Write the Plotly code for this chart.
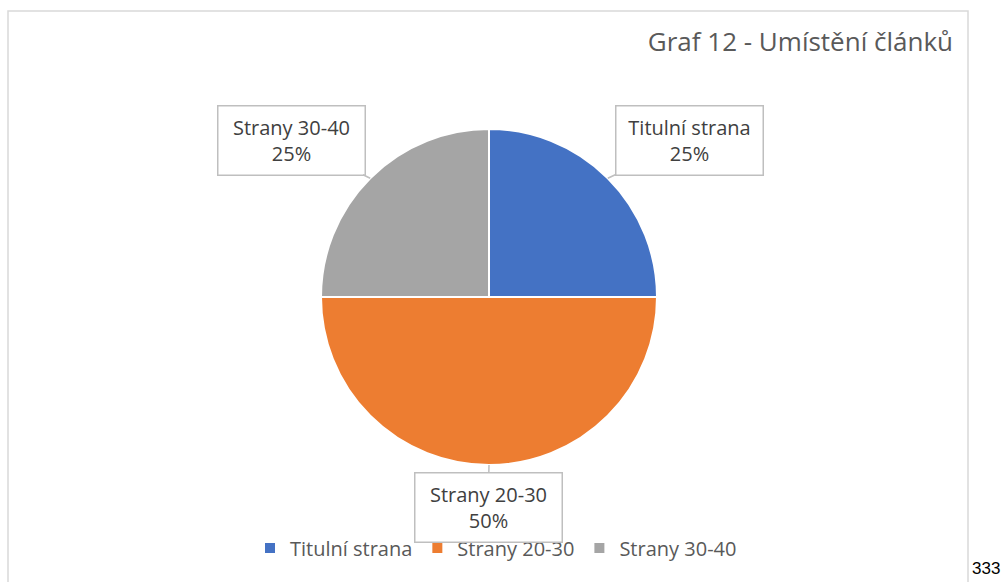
import numpy as np
import plotly.graph_objects as go

labels = ["Titulní strana", "Strany 20-30", "Strany 30-40"]
values = [25, 50, 25]
colors = ["#4472C4", "#ED7D31", "#A5A5A5"]

W, H = 1002, 582
FONT = "Open Sans"

# pie placement (pixels)
cx, cy, r = 489, 297, 168

fig = go.Figure(go.Pie(
    labels=labels, values=values, sort=False, direction="clockwise", rotation=0,
    marker=dict(colors=colors, line=dict(color="white", width=2)),
    textinfo="none", hoverinfo="label+percent",
    domain=dict(x=[(cx - r) / W, (cx + r) / W], y=[(H - cy - r) / H, (H - cy + r) / H]),
))

# callout boxes, leader to mid-angle of each slice
box_centres = [(689, 140), (488, 507), (291, 140)]
pct = np.array(values) / sum(values) * 100
start = 0.0
for lab, p, v, (bx, by) in zip(labels, pct, values, box_centres):
    mid = (start + v / 2) / sum(values) * 2 * np.pi
    start += v
    px_ = cx + r * np.sin(mid)
    py_ = cy - r * np.cos(mid)
    fig.add_annotation(
        x=px_ / W, y=1 - py_ / H, xref="paper", yref="paper",
        ax=bx - px_, ay=by - py_, axref="pixel", ayref="pixel",
        text=f"{lab}<br>{p:.0f}%", showarrow=True, arrowhead=0, arrowwidth=1.5,
        arrowcolor="#bfbfbf", bordercolor="#bfbfbf", borderwidth=1.5, borderpad=4,
        bgcolor="white", width=138, height=60,
        font=dict(family=FONT, size=20, color="#404040"),
    )

fig.add_annotation(x=1.0, y=1 - 568 / H, xref="paper", yref="paper", xanchor="right",
                   yanchor="middle", text="333", showarrow=False,
                   font=dict(family="Liberation Sans", size=17, color="black"))

fig.add_shape(type="rect", xref="paper", yref="paper", x0=8 / W, x1=968 / W,
              y0=-0.05, y1=1 - 11 / H, line=dict(color="#d9d9d9", width=1.5), layer="below")

fig.update_layout(
    width=W, height=H, margin=dict(l=0, r=0, t=0, b=0),
    paper_bgcolor="white", plot_bgcolor="white",
    title=dict(text="Graf 12 - Umístění článků", x=953 / W, xanchor="right",
               y=1 - 42 / H, yanchor="middle", font=dict(family=FONT, size=26, color="#595959")),
    legend=dict(orientation="h", x=496 / W, xanchor="center", y=34 / H, yanchor="middle",
                itemwidth=30, font=dict(family=FONT, size=20, color="#595959")),
    showlegend=True,
)

fig.write_html("out.html", config={"displayModeBar": False},
               post_script="document.body.style.margin='0px';")
